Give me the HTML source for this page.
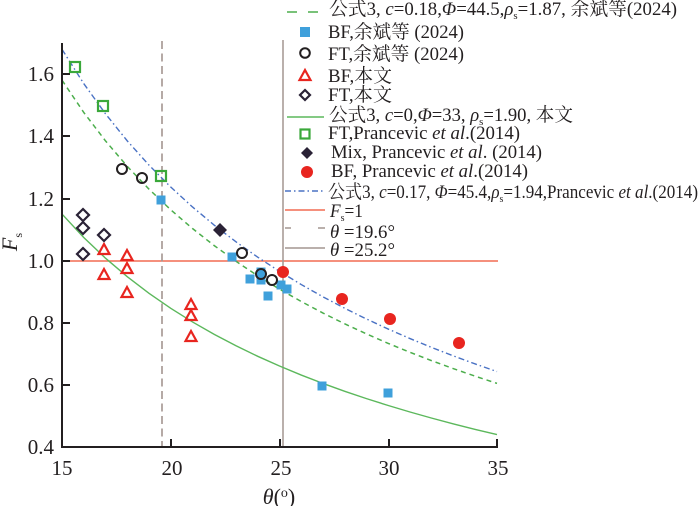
<!DOCTYPE html>
<html><head><meta charset="utf-8">
<style>
html,body{margin:0;padding:0;background:#fff;}
svg{display:block;}
text{font-family:"Liberation Serif","Noto Serif CJK SC","Noto Sans CJK SC",serif;fill:#231f20;}
</style></head>
<body>
<svg width="700" height="506" viewBox="0 0 700 506" xmlns="http://www.w3.org/2000/svg">
<rect width="700" height="506" fill="#fff"/>

<!-- reference lines -->
<line x1="62" y1="261" x2="498" y2="261" stroke="#f26b52" stroke-width="1.6"/>
<line x1="162" y1="41" x2="162" y2="447" stroke="#a39590" stroke-width="1.6" stroke-dasharray="8,4.5"/>
<line x1="283" y1="40" x2="283" y2="447" stroke="#a39590" stroke-width="1.5"/>

<!-- curves -->
<polyline fill="none" stroke="#4a72c4" stroke-width="1.4" stroke-dasharray="6,3,1.5,3"
 points="62,49.35 83.75,83.57 105.5,113.85 127.25,140.87 149,165.14 170.75,187.05 192.5,206.97 214.25,225.15 236,241.82 257.75,257.19 279.5,271.39 301.25,284.57 323,296.83 344.75,308.28 366.5,319.01 388.25,329.07 410,338.55 431.75,347.5 453.5,355.95 475.25,363.96 497,371.58"/>
<polyline fill="none" stroke="#4cae4c" stroke-width="1.5" stroke-dasharray="5,4"
 points="62,80.21 83.75,112.41 105.5,140.9 127.25,166.33 149,189.16 170.75,209.78 192.5,228.52 214.25,245.62 236,261.31 257.75,275.77 279.5,289.13 301.25,301.52 323,313.06 344.75,323.84 366.5,333.93 388.25,343.4 410,352.31 431.75,360.74 453.5,368.69 475.25,376.22 497,383.39"/>
<polyline fill="none" stroke="#5cb85c" stroke-width="1.4"
 points="62,214.05 83.75,237.47 105.5,258.2 127.25,276.69 149,293.3 170.75,308.3 192.5,321.93 214.25,334.38 236,345.79 257.75,356.31 279.5,366.03 301.25,375.05 323,383.44 344.75,391.28 366.5,398.62 388.25,405.51 410,412 431.75,418.12 453.5,423.91 475.25,429.39 497,434.61"/>

<!-- axes -->
<g stroke="#231f20" stroke-width="2" fill="none">
<polyline points="62,43 62,447 498,447"/>
<line x1="171" y1="447" x2="171" y2="439"/>
<line x1="280" y1="447" x2="280" y2="439"/>
<line x1="389" y1="447" x2="389" y2="439"/>
<line x1="497" y1="448" x2="497" y2="439"/>
<line x1="62" y1="74" x2="70" y2="74"/>
<line x1="62" y1="136" x2="70" y2="136"/>
<line x1="62" y1="199" x2="70" y2="199"/>
<line x1="62" y1="261" x2="70" y2="261"/>
<line x1="62" y1="323" x2="70" y2="323"/>
<line x1="62" y1="385" x2="70" y2="385"/>
</g>

<!-- tick labels -->
<g font-size="21" text-anchor="end">
<text x="54" y="81">1.6</text>
<text x="54" y="143">1.4</text>
<text x="54" y="206">1.2</text>
<text x="54" y="268">1.0</text>
<text x="54" y="330">0.8</text>
<text x="54" y="392">0.6</text>
<text x="54" y="454">0.4</text>
</g>
<g font-size="21" text-anchor="middle">
<text x="62" y="475">15</text>
<text x="172" y="475">20</text>
<text x="281" y="475">25</text>
<text x="389" y="475">30</text>
<text x="498" y="475">35</text>
</g>
<text x="279" y="504" font-size="22" text-anchor="middle"><tspan font-style="italic">θ</tspan>(<tspan font-size="14" dy="-7">o</tspan><tspan dy="7">)</tspan></text>
<text transform="translate(17,242) rotate(-90)" font-size="22" text-anchor="middle"><tspan font-style="italic">F</tspan><tspan font-size="12" dy="5">s</tspan></text>

<!-- data: FT Prancevic (green open squares) -->
<g fill="none" stroke="#3aa83a" stroke-width="2.2">
<rect x="70" y="62" width="10" height="10"/>
<rect x="98" y="101" width="10" height="10"/>
<rect x="156" y="171" width="10" height="10"/>
</g>
<!-- BF yu (blue squares) -->
<g fill="#3fa0db">
<rect x="156.5" y="195.5" width="9" height="9"/>
<rect x="227.5" y="252.5" width="9" height="9"/>
<rect x="245.5" y="274.5" width="9" height="9"/>
<rect x="256.5" y="267.5" width="9" height="9"/>
<rect x="256.5" y="275.5" width="9" height="9"/>
<rect x="263.5" y="291.5" width="9" height="9"/>
<rect x="276.5" y="280.5" width="9" height="9"/>
<rect x="282.5" y="284.5" width="9" height="9"/>
<rect x="317.5" y="381.5" width="9" height="9"/>
<rect x="383.5" y="388.5" width="9" height="9"/>
</g>
<!-- FT yu (open circles) -->
<g fill="none" stroke="#231f20" stroke-width="2">
<circle cx="122" cy="169" r="5"/>
<circle cx="142" cy="178" r="5"/>
<circle cx="242" cy="253" r="5"/>
<circle cx="261" cy="274" r="5"/>
<circle cx="272" cy="280" r="5"/>
</g>
<!-- BF this (red triangles) -->
<g fill="none" stroke="#e8251f" stroke-width="2.2" stroke-linejoin="miter">
<polygon points="104,244 98.5,254 109.5,254"/>
<polygon points="104,269 98.5,279 109.5,279"/>
<polygon points="127,250 121.5,260 132.5,260"/>
<polygon points="127,263 121.5,273 132.5,273"/>
<polygon points="127,287 121.5,297 132.5,297"/>
<polygon points="191,299 185.5,309 196.5,309"/>
<polygon points="191,310 185.5,320 196.5,320"/>
<polygon points="191,331 185.5,341 196.5,341"/>
</g>
<!-- FT this (open diamonds) -->
<g fill="none" stroke="#2a2236" stroke-width="2.2">
<polygon points="83,209 89,215 83,221 77,215"/>
<polygon points="83,222 89,228 83,234 77,228"/>
<polygon points="104,229 110,235 104,241 98,235"/>
<polygon points="83,248 89,254 83,260 77,254"/>
</g>
<!-- Mix (filled diamond) -->
<polygon points="220,223 227,230 220,237 213,230" fill="#2a2236"/>
<!-- BF Prancevic (red circles) -->
<g fill="#e8251f">
<circle cx="283" cy="272" r="6"/>
<circle cx="342" cy="299" r="6"/>
<circle cx="390" cy="319" r="6"/>
<circle cx="459" cy="343" r="6"/>
</g>

<!-- legend markers -->
<g stroke-width="1.5" fill="none">
<line x1="287" y1="12" x2="297" y2="12" stroke="#4cae4c"/>
<line x1="308" y1="12" x2="318" y2="12" stroke="#4cae4c"/>
<line x1="287" y1="117" x2="324" y2="117" stroke="#5cb85c"/>
<line x1="285" y1="191" x2="325" y2="191" stroke="#4a72c4" stroke-dasharray="6,3,1.5,3"/>
<line x1="285" y1="210" x2="325" y2="210" stroke="#f26b52"/>
<line x1="285" y1="228" x2="291" y2="228" stroke="#a39590"/>
<line x1="318" y1="228" x2="325" y2="228" stroke="#a39590"/>
<line x1="285" y1="248" x2="325" y2="248" stroke="#a39590"/>
</g>
<rect x="300" y="27" width="10" height="10" fill="#3fa0db"/>
<circle cx="305" cy="53" r="4.8" fill="none" stroke="#231f20" stroke-width="2"/>
<polygon points="305,70 299.5,80 310.5,80" fill="none" stroke="#e8251f" stroke-width="2.2"/>
<polygon points="305,90 310,95 305,100 300,95" fill="none" stroke="#2a2236" stroke-width="2.2"/>
<rect x="300.5" y="129.5" width="9" height="9" fill="none" stroke="#3aa83a" stroke-width="2.2"/>
<polygon points="307,147 313,153 307,159 301,153" fill="#2a2236"/>
<circle cx="307" cy="172" r="6" fill="#e8251f"/>

<!-- legend text -->
<g font-size="19">
<text x="329" y="15" textLength="348" lengthAdjust="spacingAndGlyphs">公式3, <tspan font-style="italic">c</tspan>=0.18,<tspan font-style="italic">Φ</tspan>=44.5,<tspan font-style="italic">ρ</tspan><tspan font-size="11" dy="4">s</tspan><tspan dy="-4">=1.87, 余斌等(2024)</tspan></text>
<text x="328" y="38" textLength="136" lengthAdjust="spacingAndGlyphs">BF,余斌等 (2024)</text>
<text x="328" y="60" textLength="136" lengthAdjust="spacingAndGlyphs">FT,余斌等 (2024)</text>
<text x="328" y="82" textLength="64" lengthAdjust="spacingAndGlyphs">BF,本文</text>
<text x="328" y="101" textLength="64" lengthAdjust="spacingAndGlyphs">FT,本文</text>
<text x="329" y="121" textLength="244" lengthAdjust="spacingAndGlyphs">公式3, <tspan font-style="italic">c</tspan>=0,<tspan font-style="italic">Φ</tspan>=33, <tspan font-style="italic">ρ</tspan><tspan font-size="11" dy="4">s</tspan><tspan dy="-4">=1.90, 本文</tspan></text>
<text x="328" y="139" textLength="192" lengthAdjust="spacingAndGlyphs">FT,Prancevic <tspan font-style="italic">et al</tspan>.(2014)</text>
<text x="331" y="158" textLength="211" lengthAdjust="spacingAndGlyphs">Mix, Prancevic <tspan font-style="italic">et al</tspan>. (2014)</text>
<text x="331" y="177" textLength="197" lengthAdjust="spacingAndGlyphs">BF, Prancevic <tspan font-style="italic">et al</tspan>.(2014)</text>
<text x="328" y="198" textLength="370" lengthAdjust="spacingAndGlyphs">公式3, <tspan font-style="italic">c</tspan>=0.17, <tspan font-style="italic">Φ</tspan>=45.4,<tspan font-style="italic">ρ</tspan><tspan font-size="11" dy="4">s</tspan><tspan dy="-4">=1.94,Prancevic </tspan><tspan font-style="italic">et al</tspan>.(2014)</text>
<text x="330" y="217" textLength="33" lengthAdjust="spacingAndGlyphs"><tspan font-style="italic">F</tspan><tspan font-size="11" dy="4">s</tspan><tspan dy="-4">=1</tspan></text>
<text x="330" y="238" textLength="65" lengthAdjust="spacingAndGlyphs"><tspan font-style="italic">θ</tspan> =19.6°</text>
<text x="330" y="256" textLength="65" lengthAdjust="spacingAndGlyphs"><tspan font-style="italic">θ</tspan> =25.2°</text>
</g>
</svg>
</body></html>
